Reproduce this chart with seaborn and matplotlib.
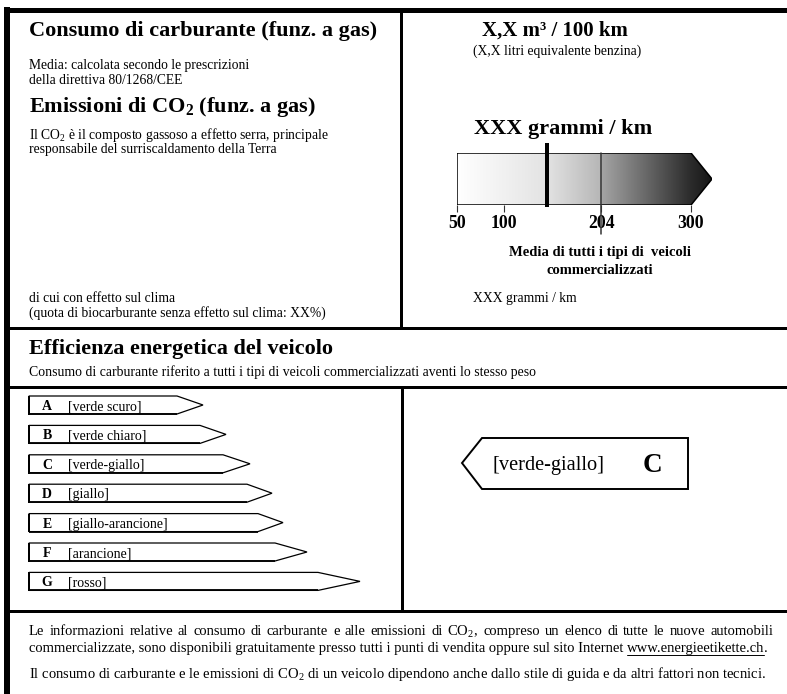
import numpy as np
import matplotlib
matplotlib.use("Agg")
import matplotlib.pyplot as plt
from matplotlib.patches import Polygon
from matplotlib.colors import LinearSegmentedColormap
import seaborn as sns

co2_ticks = [50, 100, 204, 300]          # g/km scale
co2_vehicle = 146                        # thick marker
co2_average = 204                        # average of all vehicles
classes = ['A', 'B', 'C', 'D', 'E', 'F', 'G']
class_names = ['[verde scuro]', '[verde chiaro]', '[verde-giallo]', '[giallo]',
               '[giallo-arancione]', '[arancione]', '[rosso]']
class_body = [148, 171, 194, 218, 229, 246, 289]   # arrow body length
class_tip = [174, 197, 221, 243, 254, 278, 331]    # arrow total length
vehicle_class = 'C'

SERIF = 'Liberation Serif'
PT = 0.72  # px -> pt at dpi 100

sns.set_theme(style='white')
plt.rcParams['font.family'] = [SERIF, 'DejaVu Serif']
plt.rcParams['mathtext.fontset'] = 'custom'
plt.rcParams['mathtext.rm'] = SERIF
plt.rcParams['mathtext.bf'] = SERIF + ':bold'

fig = plt.figure(figsize=(7.87, 6.94), dpi=100)
ax = fig.add_axes([0, 0, 1, 1])
ax.set_xlim(0, 787)
ax.set_ylim(694, 0)
ax.axis('off')


def put(x, y, s, size, weight='normal', ha='left', **kw):
    return ax.text(x, y, s, fontsize=size, fontweight=weight, ha=ha,
                   va='baseline', family=SERIF, color='black', **kw)


def line(xs, ys, px):
    ax.plot(xs, ys, color='black', lw=px * PT, solid_capstyle='butt')


# frame
line([7, 7], [7, 694], 6)
line([4, 787], [9.5, 9.5], 5)
line([401, 401], [9.5, 328], 3)
line([4, 787], [328, 328], 3)
line([4, 787], [387, 387], 3)
line([402, 402], [387, 611], 3)
line([4, 787], [611, 611], 3)

# top left texts
put(29, 36, 'Consumo di carburante (funz. a gas)', 16, 'bold')
put(29, 69, 'Media: calcolata secondo le prescrizioni', 9.8)
put(29, 84, 'della direttiva 80/1268/CEE', 9.8)
put(29, 112, r'Emissioni di CO$_\mathbf{2}$ (funz. a gas)', 16, 'bold')
put(29, 139, r'Il CO$_\mathrm{2}$ è il composto gassoso a effetto serra, principale', 9.8)
put(29, 153, 'responsabile del surriscaldamento della Terra', 9.8)
put(29, 302, 'di cui con effetto sul clima', 9.8)
put(29, 317, '(quota di biocarburante senza effetto sul clima: XX%)', 9.8)

# top right texts
put(482, 36, 'X,X m³ / 100 km', 15, 'bold')
put(473, 55, '(X,X litri equivalente benzina)', 9.8)
put(474, 134, 'XXX grammi / km', 16, 'bold')
put(600, 256, 'Media di tutti i tipi di  veicoli', 10.5, 'bold', ha='center')
put(600, 274, 'commercializzati', 10.5, 'bold', ha='center')
put(473, 302, 'XXX grammi / km', 9.8)

# CO2 scale
k = (691 - 457) / (co2_ticks[-1] - co2_ticks[0])
lo = co2_ticks[0]
hi = lo + (712 - 457) / k
sax = fig.add_axes([457 / 787, 1 - 205 / 694, (712 - 457) / 787, 52 / 694])
sax.set_xlim(lo, hi)
sax.set_ylim(0, 1)
sax.set_facecolor('none')
sns.despine(ax=sax, left=True, bottom=True)

top = co2_ticks[-1]
poly = Polygon([(lo, 0), (top, 0), (hi, 0.5), (top, 1), (lo, 1)], closed=True,
               fill=False, edgecolor='black', lw=1.1, zorder=3)
sax.add_patch(poly)
span = hi - lo
nodes = [(0, '#ffffff'), ((co2_vehicle - lo) / span, '#e3e3e3'),
         ((co2_average - lo) / span, '#b6b6b6'), ((co2_average + 1 - lo) / span, '#a4a4a4'),
         ((top - lo) / span, '#2c2c2c'), (1, '#161616')]
cmap = LinearSegmentedColormap.from_list('co2', nodes)
im = sax.imshow(np.linspace(0, 1, 600)[None, :], extent=(lo, hi, 0, 1), aspect='auto',
                cmap=cmap, interpolation='bilinear', zorder=1)
im.set_clip_path(poly)

sax.plot([co2_average, co2_average], [1, -0.55], color='#333333', lw=1.1, clip_on=False, zorder=4)
sax.plot([co2_vehicle, co2_vehicle], [1.19, -0.04], color='black', lw=4 * PT,
         clip_on=False, solid_capstyle='butt', zorder=5)

sax.set_xticks(co2_ticks)
sax.set_xticklabels([str(t) for t in co2_ticks], fontweight='bold', fontsize=12.8, family=SERIF)
sax.tick_params(axis='x', bottom=True, direction='out', length=5, width=0.8,
                color='#333333', pad=2.5, labelcolor='black')
sax.set_yticks([])

# energy efficiency section
put(29, 354, 'Efficienza energetica del veicolo', 16, 'bold')
put(29, 376, 'Consumo di carburante riferito a tutti i tipi di veicoli commercializzati '
             'aventi lo stesso peso', 9.9)

x0 = 29
for i, (c, name, body, tip) in enumerate(zip(classes, class_names, class_body, class_tip)):
    yt = 396 + i * 29.4
    yb = yt + 18
    ax.add_patch(Polygon([(x0, yt), (x0 + body, yt), (x0 + tip, (yt + yb) / 2),
                          (x0 + body, yb), (x0, yb)], closed=True, fill=False,
                         edgecolor='black', lw=0.9))
    line([x0, x0], [yt, yb + 0.7], 2)
    line([x0, x0 + body], [yb, yb], 1.8)
    put(47, yb - 4, c, 10, 'bold', ha='center')
    put(68, yb - 4, name, 10)

# vehicle class arrow
ax.add_patch(Polygon([(462, 463), (482, 438), (688, 438), (688, 489), (482, 489)],
                     closed=True, fill=False, edgecolor='black', lw=1.4))
ci = classes.index(vehicle_class)
put(493, 470, class_names[ci], 14.7)
put(652, 472, vehicle_class, 19.5, 'bold', ha='center')

# footer
FS = 10.5
renderer = fig.canvas.get_renderer()
words = ('Le informazioni relative al consumo di carburante e alle emissioni di '
         'CO$_\\mathrm{2}$, compreso un elenco di tutte le nuove automobili').split(' ')
objs = [put(0, 635, w, FS) for w in words]
widths = [o.get_window_extent(renderer).width for o in objs]
gap = (773 - 29 - sum(widths)) / (len(words) - 1)
xx = 29
for o, w in zip(objs, widths):
    o.set_x(xx)
    xx += w + gap

pre = put(29, 652, 'commercializzate, sono disponibili gratuitamente presso tutti i punti di '
                   'vendita oppure sul sito Internet ', FS)
wpre = pre.get_window_extent(renderer).width
url = put(29 + wpre, 652, 'www.energieetikette.ch', FS)
wurl = url.get_window_extent(renderer).width
put(29 + wpre + wurl, 652, '.', FS)
ax.plot([29 + wpre, 29 + wpre + wurl], [654.5, 654.5], color='black', lw=0.7)

put(29, 678, 'Il consumo di carburante e le emissioni di CO$_\\mathrm{2}$ di un veicolo '
             'dipendono anche dallo stile di guida e da altri fattori non tecnici.', FS)

fig.savefig('out.png', dpi=100)
